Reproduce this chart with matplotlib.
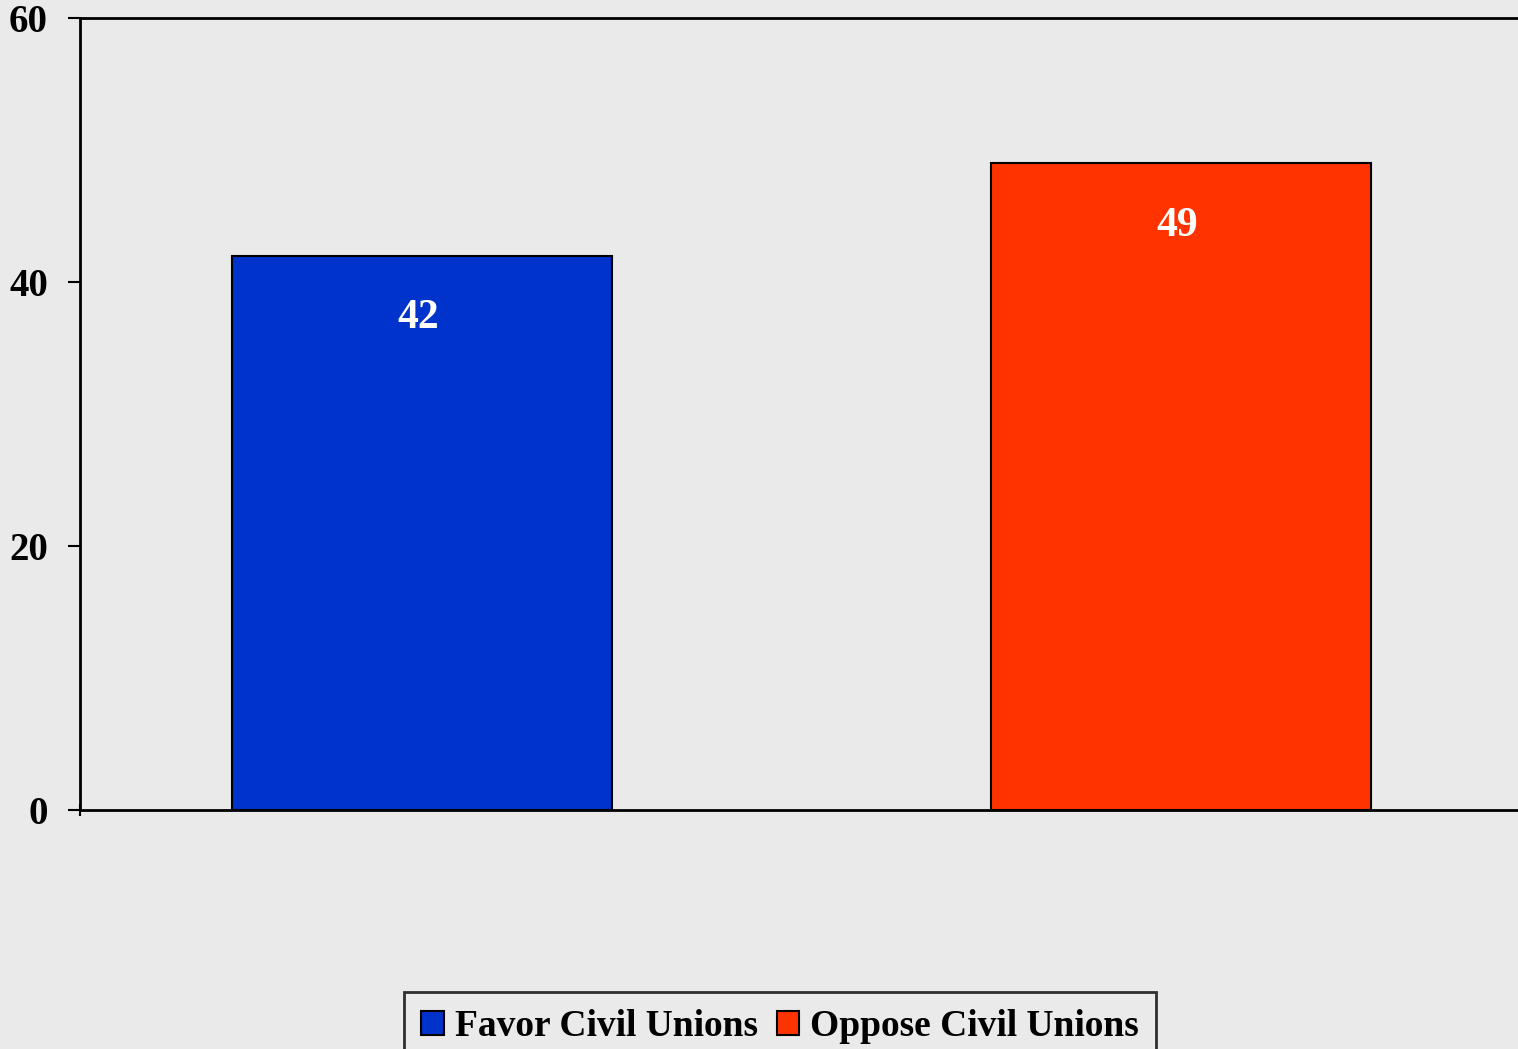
import numpy as np
import matplotlib.pyplot as plt
from matplotlib.patches import Patch

# data
categories = ["Favor Civil Unions", "Oppose Civil Unions"]
values = [42, 49]
colors = ["#0033CC", "#FF3300"]
yticks = [0, 20, 40, 60]

plt.rcParams['font.family'] = ['Liberation Serif', 'DejaVu Serif']
plt.rcParams['font.weight'] = 'bold'

bg = "#EAEAEA"
fig = plt.figure(figsize=(15.18, 10.49), dpi=100, facecolor=bg)
ax = fig.add_axes([80/1518, 1 - 810/1049, 1 - 80/1518, (810-18)/1049])
ax.set_facecolor(bg)

x = np.arange(len(values))
bars = ax.bar(x, values, width=0.5, color=colors, edgecolor="black", linewidth=1.5, zorder=2)

for b, v in zip(bars, values):
    ax.annotate(f"{v}", (b.get_x() + b.get_width()/2, v), xytext=(-3, -45),
                textcoords="offset points", ha="center", va="center",
                color="white", fontsize=30, fontweight="bold")

ax.set_ylim(0, 60)
ax.set_xlim(-0.4506, 1.444)
ax.set_yticks(yticks)
ax.set_yticklabels([str(t) for t in yticks], fontsize=28, fontweight="bold")
ax.tick_params(axis="y", length=9, width=1.5, pad=14, direction="out")
ax.set_xticks([-0.4506])
ax.set_xticklabels([""])
ax.tick_params(axis="x", length=9, width=1.5, direction="inout")

for s in ["left", "top", "bottom"]:
    ax.spines[s].set_linewidth(2)
    ax.spines[s].set_color("black")
ax.spines["right"].set_visible(False)

handles = [Patch(facecolor=c, edgecolor="black", linewidth=1.5) for c in colors]
leg = fig.legend(handles, categories, loc="upper center", bbox_to_anchor=(780/1518, 1 - 992/1049),
                 ncol=2, frameon=True, fancybox=False, edgecolor="black", facecolor=bg,
                 prop={"weight": "bold", "size": 27},
                 handlelength=0.6, handleheight=0.6, handletextpad=0.3, columnspacing=0.5,
                 borderpad=0.45, borderaxespad=0)
leg.get_frame().set_linewidth(2)

fig.savefig("out.png", dpi=100, facecolor=bg)
